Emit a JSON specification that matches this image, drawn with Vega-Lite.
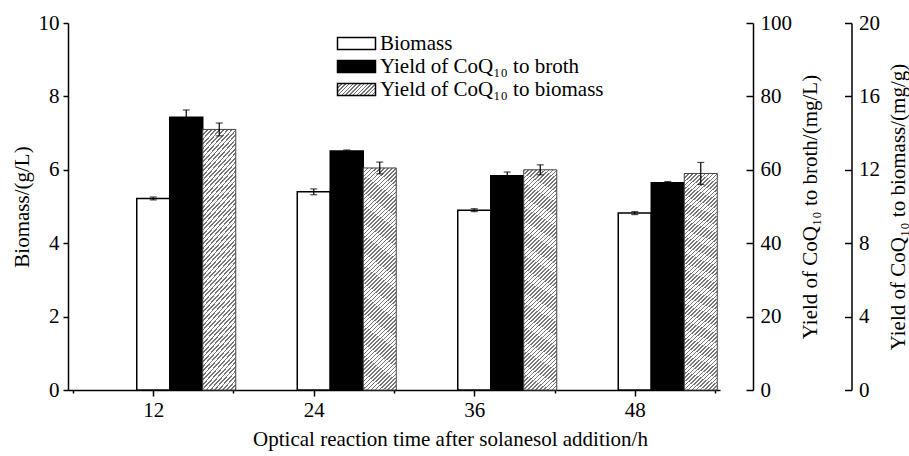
{
  "$schema": "https://vega.github.io/schema/vega-lite/v6.json",
  "width": 652,
  "height": 367,
  "autosize": "none",
  "padding": {"left": 68, "top": 23, "right": 189, "bottom": 66},
  "background": "white",
  "data": {"values": [
    {"t": 12, "biomass": 5.22, "biomass_sd": 0.04, "broth": 74.3, "broth_sd": 2.0, "yb": 14.2, "yb_sd": 0.35},
    {"t": 24, "biomass": 5.40, "biomass_sd": 0.08, "broth": 65.1, "broth_sd": 0.3, "yb": 12.1, "yb_sd": 0.32},
    {"t": 36, "biomass": 4.90, "biomass_sd": 0.04, "broth": 58.4, "broth_sd": 1.0, "yb": 12.0, "yb_sd": 0.27},
    {"t": 48, "biomass": 4.82, "biomass_sd": 0.04, "broth": 56.5, "broth_sd": 0.3, "yb": 11.8, "yb_sd": 0.6}
  ]},
  "config": {
    "view": {"stroke": null},
    "font": "Liberation Serif",
    "axis": {
      "labelFont": "Liberation Serif", "titleFont": "Liberation Serif",
      "labelFontSize": 21, "titleFontSize": 21, "titleFontWeight": "normal",
      "labelColor": "black", "titleColor": "black",
      "domainColor": "black", "tickColor": "black",
      "domainWidth": 1.5, "tickWidth": 1.5, "grid": false, "labelOverlap": false
    }
  },
  "encoding": {
    "x": {
      "field": "t", "type": "quantitative",
      "scale": {"domain": [6, 54], "nice": false, "zero": false},
      "axis": {
        "values": [6, 12, 18, 24, 30, 36, 42, 48, 54],
        "labelExpr": "datum.value % 12 === 0 ? datum.label : ''",
        "tickSize": {"condition": {"test": "datum.value % 12 === 0", "value": 6}, "value": 3},
        "labelPadding": 3,
        "labelFlush": false,
        "title": "Optical reaction time after solanesol addition/h",
        "titleX": 382,
        "titlePadding": 8
      }
    }
  },
  "layer": [
    {
      "layer": [
        {
          "mark": {"type": "bar", "width": 33, "stroke": "black", "strokeWidth": 1.5},
          "encoding": {
            "y": {
              "field": "biomass", "type": "quantitative",
              "scale": {"domain": [0, 10], "nice": false},
              "axis": {
                "orient": "left",
                "values": [0, 1, 2, 3, 4, 5, 6, 7, 8, 9, 10],
                "labelExpr": "datum.value % 2 === 0 ? datum.label : ''",
                "tickSize": {"condition": {"test": "datum.value % 2 === 0", "value": 5}, "value": 3},
                "labelPadding": 4,
                "title": "Biomass/(g/L)",
                "titlePadding": 6
              }
            },
            "fill": {
              "datum": "Biomass", "type": "nominal",
              "scale": {
                "domain": ["Biomass", "Yield of CoQ₁₀ to broth", "Yield of CoQ₁₀ to biomass"],
                "range": ["white", "black", {"expr": "{gradient: 'linear', x1: 0, y1: 0, x2: 1.2, y2: 0.38, stops: [{offset: 0, color: '#777'}, {offset: 0.03, color: '#777'}, {offset: 0.03, color: '#fff'}, {offset: 0.075, color: '#fff'}, {offset: 0.075, color: '#777'}, {offset: 0.105, color: '#777'}, {offset: 0.105, color: '#fff'}, {offset: 0.15, color: '#fff'}, {offset: 0.15, color: '#777'}, {offset: 0.18, color: '#777'}, {offset: 0.18, color: '#fff'}, {offset: 0.225, color: '#fff'}, {offset: 0.225, color: '#777'}, {offset: 0.255, color: '#777'}, {offset: 0.255, color: '#fff'}, {offset: 0.3, color: '#fff'}, {offset: 0.3, color: '#777'}, {offset: 0.33, color: '#777'}, {offset: 0.33, color: '#fff'}, {offset: 0.375, color: '#fff'}, {offset: 0.375, color: '#777'}, {offset: 0.405, color: '#777'}, {offset: 0.405, color: '#fff'}, {offset: 0.45, color: '#fff'}, {offset: 0.45, color: '#777'}, {offset: 0.48, color: '#777'}, {offset: 0.48, color: '#fff'}, {offset: 0.525, color: '#fff'}, {offset: 0.525, color: '#777'}, {offset: 0.555, color: '#777'}, {offset: 0.555, color: '#fff'}, {offset: 0.6, color: '#fff'}, {offset: 0.6, color: '#777'}, {offset: 0.63, color: '#777'}, {offset: 0.63, color: '#fff'}, {offset: 0.675, color: '#fff'}, {offset: 0.675, color: '#777'}, {offset: 0.705, color: '#777'}, {offset: 0.705, color: '#fff'}, {offset: 0.75, color: '#fff'}, {offset: 0.75, color: '#777'}, {offset: 0.78, color: '#777'}, {offset: 0.78, color: '#fff'}, {offset: 0.825, color: '#fff'}, {offset: 0.825, color: '#777'}, {offset: 0.855, color: '#777'}, {offset: 0.855, color: '#fff'}, {offset: 0.9, color: '#fff'}, {offset: 0.9, color: '#777'}, {offset: 0.93, color: '#777'}, {offset: 0.93, color: '#fff'}, {offset: 0.975, color: '#fff'}, {offset: 0.975, color: '#777'}, {offset: 1, color: '#777'}]}"}]
              },
              "legend": {
                "orient": "none", "legendX": 278, "legendY": 10, "title": null,
                "symbolType": "M-2.714,-0.857H2.714V0.857H-2.714Z", "symbolSize": 196,
                "labelFont": "Liberation Serif", "labelFontSize": 21, "labelColor": "black", "labelLimit": 0,
                "labelOffset": 13, "rowPadding": 1, "padding": 0,
                "symbolStrokeWidth": 1.5, "symbolStrokeColor": "black"
              }
            }
          }
        },
        {
          "mark": {"type": "errorbar", "ticks": {"size": 7, "color": "black"}, "rule": {"color": "black"}, "thickness": 1.2},
          "encoding": {
            "y": {"field": "biomass", "type": "quantitative", "title": "Biomass/(g/L)"},
            "yError": {"field": "biomass_sd"}
          }
        }
      ]
    },
    {
      "layer": [
        {
          "mark": {"type": "bar", "width": 33, "xOffset": 33, "stroke": "black", "strokeWidth": 1.5},
          "encoding": {
            "y": {
              "field": "broth", "type": "quantitative",
              "scale": {"domain": [0, 100], "nice": false},
              "axis": {
                "orient": "right", "offset": 33,
                "values": [0, 5, 10, 15, 20, 25, 30, 35, 40, 45, 50, 55, 60, 65, 70, 75, 80, 85, 90, 95, 100],
                "labelExpr": "datum.value % 10 === 0 ? datum.label : ''",
                "tickSize": {"condition": {"test": "datum.value % 10 === 0", "value": -7}, "value": -4},
                "labelPadding": 14,
                "title": "Yield of CoQ₁₀ to broth/(mg/L)",
                "titleAngle": 270,
                "titleBaseline": "top",
                "titlePadding": 8
              }
            },
            "fill": {"datum": "Yield of CoQ₁₀ to broth", "type": "nominal"}
          }
        },
        {
          "mark": {"type": "errorbar", "ticks": {"size": 7, "color": "black", "xOffset": 33}, "rule": {"color": "black", "xOffset": 33}, "thickness": 1.2},
          "encoding": {
            "y": {"field": "broth", "type": "quantitative", "title": "Yield of CoQ₁₀ to broth/(mg/L)"},
            "yError": {"field": "broth_sd"}
          }
        }
      ]
    },
    {
      "layer": [
        {
          "mark": {
            "type": "bar", "width": 33, "xOffset": 66, "stroke": "#444", "strokeWidth": 1,
            "fill": {"gradient": "linear", "x1": 0, "y1": 0, "x2": 0.16, "y2": 1.14, "stops": [
              {"offset": 0, "color": "#777"}, {"offset": 0.006, "color": "#777"}, {"offset": 0.006, "color": "#fff"}, {"offset": 0.015, "color": "#fff"},
              {"offset": 0.015, "color": "#777"}, {"offset": 0.021, "color": "#777"}, {"offset": 0.021, "color": "#fff"}, {"offset": 0.03, "color": "#fff"},
              {"offset": 0.03, "color": "#777"}, {"offset": 0.036, "color": "#777"}, {"offset": 0.036, "color": "#fff"}, {"offset": 0.045, "color": "#fff"},
              {"offset": 0.045, "color": "#777"}, {"offset": 0.051, "color": "#777"}, {"offset": 0.051, "color": "#fff"}, {"offset": 0.06, "color": "#fff"},
              {"offset": 0.06, "color": "#777"}, {"offset": 0.066, "color": "#777"}, {"offset": 0.066, "color": "#fff"}, {"offset": 0.075, "color": "#fff"},
              {"offset": 0.075, "color": "#777"}, {"offset": 0.081, "color": "#777"}, {"offset": 0.081, "color": "#fff"}, {"offset": 0.09, "color": "#fff"},
              {"offset": 0.09, "color": "#777"}, {"offset": 0.096, "color": "#777"}, {"offset": 0.096, "color": "#fff"}, {"offset": 0.105, "color": "#fff"},
              {"offset": 0.105, "color": "#777"}, {"offset": 0.111, "color": "#777"}, {"offset": 0.111, "color": "#fff"}, {"offset": 0.12, "color": "#fff"},
              {"offset": 0.12, "color": "#777"}, {"offset": 0.126, "color": "#777"}, {"offset": 0.126, "color": "#fff"}, {"offset": 0.135, "color": "#fff"},
              {"offset": 0.135, "color": "#777"}, {"offset": 0.141, "color": "#777"}, {"offset": 0.141, "color": "#fff"}, {"offset": 0.15, "color": "#fff"},
              {"offset": 0.15, "color": "#777"}, {"offset": 0.156, "color": "#777"}, {"offset": 0.156, "color": "#fff"}, {"offset": 0.165, "color": "#fff"},
              {"offset": 0.165, "color": "#777"}, {"offset": 0.171, "color": "#777"}, {"offset": 0.171, "color": "#fff"}, {"offset": 0.18, "color": "#fff"},
              {"offset": 0.18, "color": "#777"}, {"offset": 0.186, "color": "#777"}, {"offset": 0.186, "color": "#fff"}, {"offset": 0.195, "color": "#fff"},
              {"offset": 0.195, "color": "#777"}, {"offset": 0.201, "color": "#777"}, {"offset": 0.201, "color": "#fff"}, {"offset": 0.21, "color": "#fff"},
              {"offset": 0.21, "color": "#777"}, {"offset": 0.216, "color": "#777"}, {"offset": 0.216, "color": "#fff"}, {"offset": 0.225, "color": "#fff"},
              {"offset": 0.225, "color": "#777"}, {"offset": 0.231, "color": "#777"}, {"offset": 0.231, "color": "#fff"}, {"offset": 0.24, "color": "#fff"},
              {"offset": 0.24, "color": "#777"}, {"offset": 0.246, "color": "#777"}, {"offset": 0.246, "color": "#fff"}, {"offset": 0.255, "color": "#fff"},
              {"offset": 0.255, "color": "#777"}, {"offset": 0.261, "color": "#777"}, {"offset": 0.261, "color": "#fff"}, {"offset": 0.27, "color": "#fff"},
              {"offset": 0.27, "color": "#777"}, {"offset": 0.276, "color": "#777"}, {"offset": 0.276, "color": "#fff"}, {"offset": 0.285, "color": "#fff"},
              {"offset": 0.285, "color": "#777"}, {"offset": 0.291, "color": "#777"}, {"offset": 0.291, "color": "#fff"}, {"offset": 0.3, "color": "#fff"},
              {"offset": 0.3, "color": "#777"}, {"offset": 0.306, "color": "#777"}, {"offset": 0.306, "color": "#fff"}, {"offset": 0.315, "color": "#fff"},
              {"offset": 0.315, "color": "#777"}, {"offset": 0.321, "color": "#777"}, {"offset": 0.321, "color": "#fff"}, {"offset": 0.33, "color": "#fff"},
              {"offset": 0.33, "color": "#777"}, {"offset": 0.336, "color": "#777"}, {"offset": 0.336, "color": "#fff"}, {"offset": 0.345, "color": "#fff"},
              {"offset": 0.345, "color": "#777"}, {"offset": 0.351, "color": "#777"}, {"offset": 0.351, "color": "#fff"}, {"offset": 0.36, "color": "#fff"},
              {"offset": 0.36, "color": "#777"}, {"offset": 0.366, "color": "#777"}, {"offset": 0.366, "color": "#fff"}, {"offset": 0.375, "color": "#fff"},
              {"offset": 0.375, "color": "#777"}, {"offset": 0.381, "color": "#777"}, {"offset": 0.381, "color": "#fff"}, {"offset": 0.39, "color": "#fff"},
              {"offset": 0.39, "color": "#777"}, {"offset": 0.396, "color": "#777"}, {"offset": 0.396, "color": "#fff"}, {"offset": 0.405, "color": "#fff"},
              {"offset": 0.405, "color": "#777"}, {"offset": 0.411, "color": "#777"}, {"offset": 0.411, "color": "#fff"}, {"offset": 0.42, "color": "#fff"},
              {"offset": 0.42, "color": "#777"}, {"offset": 0.426, "color": "#777"}, {"offset": 0.426, "color": "#fff"}, {"offset": 0.435, "color": "#fff"},
              {"offset": 0.435, "color": "#777"}, {"offset": 0.441, "color": "#777"}, {"offset": 0.441, "color": "#fff"}, {"offset": 0.45, "color": "#fff"},
              {"offset": 0.45, "color": "#777"}, {"offset": 0.456, "color": "#777"}, {"offset": 0.456, "color": "#fff"}, {"offset": 0.465, "color": "#fff"},
              {"offset": 0.465, "color": "#777"}, {"offset": 0.471, "color": "#777"}, {"offset": 0.471, "color": "#fff"}, {"offset": 0.48, "color": "#fff"},
              {"offset": 0.48, "color": "#777"}, {"offset": 0.486, "color": "#777"}, {"offset": 0.486, "color": "#fff"}, {"offset": 0.495, "color": "#fff"},
              {"offset": 0.495, "color": "#777"}, {"offset": 0.501, "color": "#777"}, {"offset": 0.501, "color": "#fff"}, {"offset": 0.51, "color": "#fff"},
              {"offset": 0.51, "color": "#777"}, {"offset": 0.516, "color": "#777"}, {"offset": 0.516, "color": "#fff"}, {"offset": 0.525, "color": "#fff"},
              {"offset": 0.525, "color": "#777"}, {"offset": 0.531, "color": "#777"}, {"offset": 0.531, "color": "#fff"}, {"offset": 0.54, "color": "#fff"},
              {"offset": 0.54, "color": "#777"}, {"offset": 0.546, "color": "#777"}, {"offset": 0.546, "color": "#fff"}, {"offset": 0.555, "color": "#fff"},
              {"offset": 0.555, "color": "#777"}, {"offset": 0.561, "color": "#777"}, {"offset": 0.561, "color": "#fff"}, {"offset": 0.57, "color": "#fff"},
              {"offset": 0.57, "color": "#777"}, {"offset": 0.576, "color": "#777"}, {"offset": 0.576, "color": "#fff"}, {"offset": 0.585, "color": "#fff"},
              {"offset": 0.585, "color": "#777"}, {"offset": 0.591, "color": "#777"}, {"offset": 0.591, "color": "#fff"}, {"offset": 0.6, "color": "#fff"},
              {"offset": 0.6, "color": "#777"}, {"offset": 0.606, "color": "#777"}, {"offset": 0.606, "color": "#fff"}, {"offset": 0.615, "color": "#fff"},
              {"offset": 0.615, "color": "#777"}, {"offset": 0.621, "color": "#777"}, {"offset": 0.621, "color": "#fff"}, {"offset": 0.63, "color": "#fff"},
              {"offset": 0.63, "color": "#777"}, {"offset": 0.636, "color": "#777"}, {"offset": 0.636, "color": "#fff"}, {"offset": 0.645, "color": "#fff"},
              {"offset": 0.645, "color": "#777"}, {"offset": 0.651, "color": "#777"}, {"offset": 0.651, "color": "#fff"}, {"offset": 0.66, "color": "#fff"},
              {"offset": 0.66, "color": "#777"}, {"offset": 0.666, "color": "#777"}, {"offset": 0.666, "color": "#fff"}, {"offset": 0.675, "color": "#fff"},
              {"offset": 0.675, "color": "#777"}, {"offset": 0.681, "color": "#777"}, {"offset": 0.681, "color": "#fff"}, {"offset": 0.69, "color": "#fff"},
              {"offset": 0.69, "color": "#777"}, {"offset": 0.696, "color": "#777"}, {"offset": 0.696, "color": "#fff"}, {"offset": 0.705, "color": "#fff"},
              {"offset": 0.705, "color": "#777"}, {"offset": 0.711, "color": "#777"}, {"offset": 0.711, "color": "#fff"}, {"offset": 0.72, "color": "#fff"},
              {"offset": 0.72, "color": "#777"}, {"offset": 0.726, "color": "#777"}, {"offset": 0.726, "color": "#fff"}, {"offset": 0.735, "color": "#fff"},
              {"offset": 0.735, "color": "#777"}, {"offset": 0.741, "color": "#777"}, {"offset": 0.741, "color": "#fff"}, {"offset": 0.75, "color": "#fff"},
              {"offset": 0.75, "color": "#777"}, {"offset": 0.756, "color": "#777"}, {"offset": 0.756, "color": "#fff"}, {"offset": 0.765, "color": "#fff"},
              {"offset": 0.765, "color": "#777"}, {"offset": 0.771, "color": "#777"}, {"offset": 0.771, "color": "#fff"}, {"offset": 0.78, "color": "#fff"},
              {"offset": 0.78, "color": "#777"}, {"offset": 0.786, "color": "#777"}, {"offset": 0.786, "color": "#fff"}, {"offset": 0.795, "color": "#fff"},
              {"offset": 0.795, "color": "#777"}, {"offset": 0.801, "color": "#777"}, {"offset": 0.801, "color": "#fff"}, {"offset": 0.81, "color": "#fff"},
              {"offset": 0.81, "color": "#777"}, {"offset": 0.816, "color": "#777"}, {"offset": 0.816, "color": "#fff"}, {"offset": 0.825, "color": "#fff"},
              {"offset": 0.825, "color": "#777"}, {"offset": 0.831, "color": "#777"}, {"offset": 0.831, "color": "#fff"}, {"offset": 0.84, "color": "#fff"},
              {"offset": 0.84, "color": "#777"}, {"offset": 0.846, "color": "#777"}, {"offset": 0.846, "color": "#fff"}, {"offset": 0.855, "color": "#fff"},
              {"offset": 0.855, "color": "#777"}, {"offset": 0.861, "color": "#777"}, {"offset": 0.861, "color": "#fff"}, {"offset": 0.87, "color": "#fff"},
              {"offset": 0.87, "color": "#777"}, {"offset": 0.876, "color": "#777"}, {"offset": 0.876, "color": "#fff"}, {"offset": 0.885, "color": "#fff"},
              {"offset": 0.885, "color": "#777"}, {"offset": 0.891, "color": "#777"}, {"offset": 0.891, "color": "#fff"}, {"offset": 0.9, "color": "#fff"},
              {"offset": 0.9, "color": "#777"}, {"offset": 0.906, "color": "#777"}, {"offset": 0.906, "color": "#fff"}, {"offset": 0.915, "color": "#fff"},
              {"offset": 0.915, "color": "#777"}, {"offset": 0.921, "color": "#777"}, {"offset": 0.921, "color": "#fff"}, {"offset": 0.93, "color": "#fff"},
              {"offset": 0.93, "color": "#777"}, {"offset": 0.936, "color": "#777"}, {"offset": 0.936, "color": "#fff"}, {"offset": 0.945, "color": "#fff"},
              {"offset": 0.945, "color": "#777"}, {"offset": 0.951, "color": "#777"}, {"offset": 0.951, "color": "#fff"}, {"offset": 0.96, "color": "#fff"},
              {"offset": 0.96, "color": "#777"}, {"offset": 0.966, "color": "#777"}, {"offset": 0.966, "color": "#fff"}, {"offset": 0.975, "color": "#fff"},
              {"offset": 0.975, "color": "#777"}, {"offset": 0.981, "color": "#777"}, {"offset": 0.981, "color": "#fff"}, {"offset": 0.99, "color": "#fff"},
              {"offset": 0.99, "color": "#777"}, {"offset": 0.996, "color": "#777"}, {"offset": 0.996, "color": "#fff"}, {"offset": 1, "color": "#fff"}
            ]}
          },
          "encoding": {
            "y": {
              "field": "yb", "type": "quantitative",
              "scale": {"domain": [0, 20], "nice": false},
              "axis": {
                "orient": "right", "offset": 131.5,
                "values": [0, 2, 4, 6, 8, 10, 12, 14, 16, 18, 20],
                "labelExpr": "datum.value % 4 === 0 ? datum.label : ''",
                "tickSize": {"condition": {"test": "datum.value % 4 === 0", "value": -7}, "value": -4},
                "labelPadding": 14,
                "title": "Yield of CoQ₁₀ to biomass/(mg/g)",
                "titleAngle": 270,
                "titleBaseline": "top",
                "titlePadding": 8
              }
            }
          }
        },
        {
          "mark": {"type": "errorbar", "ticks": {"size": 7, "color": "black", "xOffset": 66}, "rule": {"color": "black", "xOffset": 66}, "thickness": 1.2},
          "encoding": {
            "y": {"field": "yb", "type": "quantitative", "title": "Yield of CoQ₁₀ to biomass/(mg/g)"},
            "yError": {"field": "yb_sd"}
          }
        }
      ]
    }
  ],
  "resolve": {"scale": {"y": "independent"}, "axis": {"y": "independent"}}
}
